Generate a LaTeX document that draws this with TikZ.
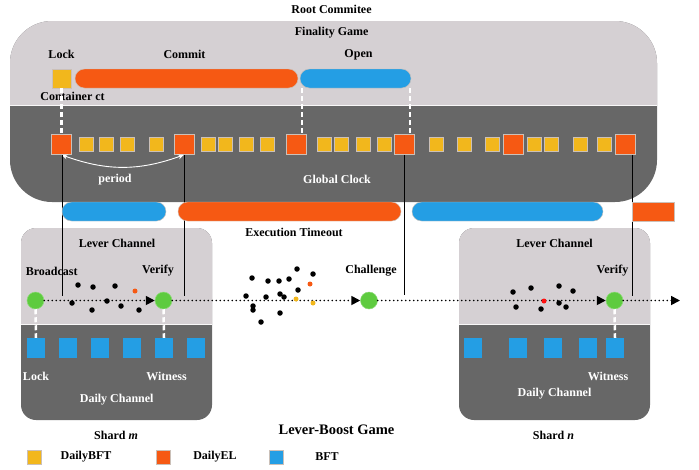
\documentclass[tikz,border=0pt]{standalone}
\usepackage{fontspec}
\setmainfont{Liberation Serif}
\usetikzlibrary{arrows.meta}
\definecolor{lightg}{HTML}{D5D0D3}
\definecolor{darkg}{HTML}{676767}
\definecolor{corg}{HTML}{F65913}
\definecolor{cyel}{HTML}{F2B71C}
\definecolor{cblu}{HTML}{249EE4}
\definecolor{cgrn}{HTML}{5ECB3F}
\definecolor{sqb}{HTML}{CBC0B8}
\definecolor{cred}{HTML}{FF1010}
\begin{document}
\begin{tikzpicture}[x=1pt,y=-1pt,
  lbl/.style={font=\bfseries\fontsize{12}{14}\selectfont, inner sep=0pt},
  wlbl/.style={lbl, text=white},
  sqy/.style={draw=sqb, line width=0.6pt, fill=cyel, minimum size=14pt, inner sep=0pt},
  sqo/.style={draw=sqb, line width=0.6pt, fill=corg, minimum size=20pt, inner sep=0pt},
  sqbl/.style={fill=cblu, minimum width=18pt, minimum height=20pt, inner sep=0pt},
  bar/.style={rounded corners=9.5pt, minimum height=19pt, inner sep=0pt, draw=sqb, line width=0.4pt},
  dotn/.style={circle, fill=black, minimum size=5.5pt, inner sep=0pt},
  gn/.style={circle, fill=cgrn, draw=cgrn!70!white, line width=0.5pt, minimum size=17pt, inner sep=0pt},
  flow/.style={line width=1.7pt, line cap=round, dash pattern=on 0pt off 4pt, -{Triangle[length=9pt,width=9pt]}},
  wdash/.style={white, line width=2.5pt, dash pattern=on 5pt off 3pt},
  vline/.style={black, line width=0.8pt}]
\useasboundingbox (0,0) rectangle (699,469);
% Root committee box
\fill[darkg, rounded corners=42pt] (10,21) rectangle (657,202);
\begin{scope}
  \clip (0,0) rectangle (699,105);
  \fill[lightg, rounded corners=42pt] (10,21) rectangle (657,202);
\end{scope}
\draw[white!85!lightg, line width=0.8pt] (10,105) -- (657,105);
% Shard boxes
\fill[darkg, rounded corners=15pt] (21,228) rectangle (212,420);
\begin{scope}
  \clip (0,0) rectangle (699,324);
  \fill[lightg, rounded corners=15pt] (21,228) rectangle (212,420);
\end{scope}
\draw[white!85!lightg, line width=0.8pt] (21,324) -- (212,324);
\fill[darkg, rounded corners=15pt] (459,228) rectangle (650,420);
\begin{scope}
  \clip (0,0) rectangle (699,324);
  \fill[lightg, rounded corners=15pt] (459,228) rectangle (650,420);
\end{scope}
\draw[white!85!lightg, line width=0.8pt] (459,324) -- (650,324);

% texts
\node[lbl] (root) at (331.5,9) {Root Commitee};
\node[lbl] (fin) at (331.7,33) {Finality Game};
\node[lbl] (tlock) at (61.5,54.5) {Lock};
\node[lbl] (tcommit) at (184.5,54.5) {Commit};
\node[lbl] (topen) at (358.5,54.5) {Open};
\node[lbl] (tcont) at (72.5,96) {Container ct};
\node[wlbl] (tperiod) at (115,179.5) {period};
\node[wlbl] (tclock) at (337,179.5) {Global Clock};
\node[lbl] (texec) at (294,232) {Execution Timeout};

% top row
\node[sqy, minimum size=19pt] (lock) at (61.5,78.5) {};
\node[bar, fill=corg, minimum width=223pt] (commit) at (186.5,78.5) {};
\node[bar, fill=cblu, minimum width=111pt] (open) at (355.5,78.5) {};

% clock row
\foreach \x [count=\i] in {61.5,184,296,404.5,513.5,625.5}
  \node[sqo] (o\i) at (\x,144.5) {};
\foreach \x [count=\i] in {86,106,127,156,208,225,246.5,267.5,324,341,363,384,436,464,492,534,551,580,604}
  \node[sqy] (y\i) at (\x,144.5) {};

% dashed white links
\draw[wdash] (lock.south) -- (o1.north);
\draw[wdash] ([xshift=2pt]open.south west) -- ([xshift=2pt]open.south west |- o3.north);
\draw[wdash] ([xshift=-1pt]open.south east) -- ([xshift=-1pt]open.south east |- o4.north);

% period arrow
\draw[white, line width=0.9pt, {Stealth[length=6pt,width=5pt]}-{Stealth[length=6pt,width=5pt]}] (o1.south) to[bend right=20] (o2.south);

% vertical lines
\coordinate (t1) at (62,296);
\coordinate (t2) at (184,296);
\coordinate (t3) at (404.5,295);
\coordinate (t4) at (632,296);
\draw[vline] ([xshift=0.5pt]o1.south) -- (t1);
\draw[vline] (o2.south) -- (t2);
\draw[vline] (o4.south) -- (t3);
\draw[vline] ([xshift=6.5pt]o6.south) -- (t4);

% second bar row
\node[bar, fill=cblu, minimum width=104pt] (eb1) at (114,211.5) {};
\node[bar, fill=corg, minimum width=223pt] (eo1) at (289.5,211.5) {};
\node[bar, fill=cblu, minimum width=191pt] (eb2) at (507.5,211.5) {};
\node[bar, rounded corners=0pt, fill=corg, minimum width=42pt] (eo2) at (653,211.5) {};

% shard texts
\node[lbl] (lc1) at (117,243) {Lever Channel};
\node[lbl] (tbc) at (51.7,271) {Broadcast};
\node[lbl] (tv1) at (158,271) {Verify};
\node[lbl] (tch) at (371,271) {Challenge};
\node[lbl] (lc2) at (554.5,243) {Lever Channel};
\node[lbl] (tv2) at (612.5,271) {Verify};
\node[wlbl] (tl2) at (36,376) {Lock};
\node[wlbl] (tw1) at (166.5,376) {Witness};
\node[wlbl] (dc1) at (116.7,400) {Daily Channel};
\node[wlbl] (tw2) at (608,376) {Witness};
\node[wlbl] (dc2) at (554.5,394) {Daily Channel};
\node[lbl] (sm) at (116,435) {Shard \textit{m}};
\node[lbl] (sn) at (553.5,435) {Shard \textit{n}};
\node[lbl, font=\bfseries\fontsize{14.5}{16}\selectfont] (lbg) at (336.5,429.5) {Lever-Boost Game};

% green nodes
\node[gn] (g1) at (35.5,300.5) {};
\node[gn] (g2) at (163.5,300.5) {};
\node[gn] (g3) at (369,300.5) {};
\node[gn] (g4) at (614.5,300.5) {};
\coordinate (gend) at (680,300.5);

% flow
\draw[flow] (g1) -- (g2);
\draw[flow] (g2) -- (g3);
\draw[flow] (g3) -- (g4);
\draw[flow] (g4) -- (gend);

% blue squares
\foreach \x [count=\i] in {36,68,100,132,164,196}
  \node[sqbl] (b\i) at (\x,348) {};
\foreach \x [count=\i] in {473,518,553,588,615}
  \node[sqbl] (rb\i) at (\x,348) {};
\draw[wdash] (g1.south) -- (b1.north);
\draw[wdash] (g2.south) -- (b5.north);
\draw[wdash] (g4.south) -- (rb5.north);

% dots
\foreach \p [count=\i] in {(78,285),(93,287),(115,286),(72,303),(92,310),(107,301),(121,306),(139,310),
  (297,269),(313,274),(252,278),(268,281),(279,281),(289,279),(298,290),(246,296),(266,297),(280,294),(284,297),(253,306),(253,310),(280,313),(261,322),
  (513,292),(531,288),(559,286),(573,291),(516,307),(541,309),(559,303),(566,307)}
  \node[dotn] (d\i) at \p {};
\node[dotn, fill=corg, minimum size=5pt] (do1) at (135,291) {};
\node[dotn, fill=corg, minimum size=5pt] (do2) at (310,284) {};
\node[dotn, fill=cyel, minimum size=5pt] (dy1) at (296,299) {};
\node[dotn, fill=cyel, minimum size=5pt] (dy2) at (313,303) {};
\node[dotn, fill=cred, minimum size=5pt] (dr1) at (544,301) {};

% legend
\node[sqy] (ly) at (34,457) {};
\node[lbl] (lyt) at (86,457) {DailyBFT};
\node[sqo, minimum size=14pt] (lo) at (163.5,457) {};
\node[lbl] (lot) at (215,457) {DailyEL};
\node[sqbl, draw=sqb, line width=0.6pt, minimum width=14pt, minimum height=14pt] (lb) at (276,457) {};
\node[lbl] (lbt) at (327,457) {BFT};
\end{tikzpicture}
\end{document}
